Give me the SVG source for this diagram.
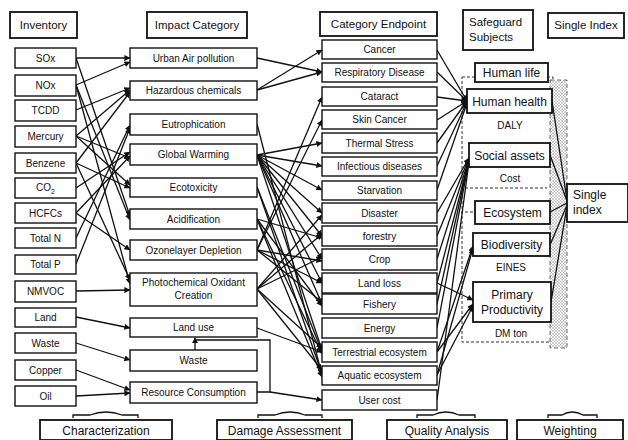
<svg xmlns="http://www.w3.org/2000/svg" width="628" height="440" viewBox="0 0 628 440">
<style>
.b{fill:#fff;stroke:#111;stroke-width:1.4}
.h{fill:#fff;stroke:#111;stroke-width:1.8}
.t{font-family:"Liberation Sans",Arial,sans-serif;font-size:10px;fill:#111;text-anchor:middle}
.th{font-family:"Liberation Sans",Arial,sans-serif;font-size:11.5px;fill:#111;text-anchor:middle}
.ts{font-family:"Liberation Sans",Arial,sans-serif;font-size:12px;fill:#111;text-anchor:middle}
.c{stroke:#111;stroke-width:1.3;fill:none}
.ca{stroke:#111;stroke-width:1.3;fill:none;marker-end:url(#ah)}
.d{stroke:#333;stroke-width:1;fill:none;stroke-dasharray:3 2}
</style>
<defs>
<marker id="ah" viewBox="0 0 8 8" refX="7.5" refY="4" markerWidth="6" markerHeight="6" orient="auto" markerUnits="userSpaceOnUse">
<path d="M0,0 L8,4 L0,8 z" fill="#111"/>
</marker>
<pattern id="dots" width="3" height="3" patternUnits="userSpaceOnUse">
<rect width="3" height="3" fill="#fff"/>
<circle cx="1" cy="1" r="0.7" fill="#777"/>
<circle cx="2.5" cy="2.5" r="0.5" fill="#999"/>
</pattern>
</defs>
<rect width="628" height="440" fill="#fff"/>

<!-- dashed safeguard region and stipple -->
<g id="safeguard-frame">
<rect x="462" y="77" width="91" height="265" class="d"/>
<line x1="465" y1="188" x2="547" y2="188" class="d"/>
<line x1="465" y1="212" x2="475" y2="212" class="d"/>
<rect x="550" y="80" width="17" height="268" fill="url(#dots)" stroke="#444" stroke-width="0.8" stroke-dasharray="4 3"/>
</g>

<g id="connectors">
<!-- inventory to impact -->
<line x1="76" y1="58" x2="130" y2="58" class="ca"/>
<line x1="76" y1="58" x2="130" y2="216" class="ca"/>
<line x1="76" y1="85" x2="130" y2="62" class="ca"/>
<line x1="76" y1="85" x2="130" y2="220" class="ca"/>
<line x1="76" y1="85" x2="130" y2="284" class="ca"/>
<line x1="76" y1="110" x2="130" y2="88" class="ca"/>
<line x1="76" y1="136" x2="130" y2="90" class="ca"/>
<line x1="76" y1="136" x2="130" y2="185" class="ca"/>
<line x1="76" y1="163" x2="130" y2="92" class="ca"/>
<line x1="76" y1="163" x2="130" y2="188" class="ca"/>
<line x1="76" y1="163" x2="130" y2="280" class="ca"/>
<line x1="76" y1="188" x2="130" y2="152" class="ca"/>
<line x1="76" y1="213" x2="130" y2="156" class="ca"/>
<line x1="76" y1="213" x2="130" y2="250" class="ca"/>
<line x1="76" y1="238" x2="130" y2="125" class="ca"/>
<line x1="76" y1="264" x2="130" y2="128" class="ca"/>
<line x1="76" y1="136" x2="130" y2="158" class="ca"/>
<line x1="76" y1="291" x2="130" y2="290" class="ca"/>
<line x1="76" y1="317" x2="130" y2="328" class="ca"/>
<line x1="76" y1="343" x2="130" y2="360" class="ca"/>
<line x1="76" y1="370" x2="130" y2="390" class="ca"/>
<line x1="76" y1="396" x2="130" y2="393" class="ca"/>
<!-- waste / resource loop to land use -->
<polyline points="257,392 270,392 270,340 195,340" class="c"/>
<line x1="195" y1="350" x2="195" y2="337.5" class="ca"/>
<!-- impact to endpoint -->
<line x1="257" y1="58" x2="322" y2="72" class="ca"/>
<line x1="257" y1="90" x2="322" y2="50" class="ca"/>
<line x1="257" y1="90" x2="322" y2="72" class="ca"/>
<line x1="257" y1="124" x2="322" y2="375" class="ca"/>
<line x1="257" y1="155" x2="322" y2="143" class="ca"/>
<line x1="257" y1="155" x2="322" y2="166" class="ca"/>
<line x1="257" y1="155" x2="322" y2="190" class="ca"/>
<line x1="257" y1="155" x2="322" y2="213" class="ca"/>
<line x1="257" y1="155" x2="322" y2="236" class="ca"/>
<line x1="257" y1="155" x2="322" y2="259" class="ca"/>
<line x1="257" y1="155" x2="322" y2="283" class="ca"/>
<line x1="257" y1="155" x2="322" y2="304" class="ca"/>
<line x1="257" y1="155" x2="322" y2="350" class="ca"/>
<line x1="257" y1="187" x2="322" y2="352" class="ca"/>
<line x1="257" y1="187" x2="322" y2="374" class="ca"/>
<line x1="257" y1="219" x2="322" y2="238" class="ca"/>
<line x1="257" y1="219" x2="322" y2="354" class="ca"/>
<line x1="257" y1="219" x2="322" y2="377" class="ca"/>
<line x1="257" y1="219" x2="322" y2="306" class="ca"/>
<line x1="257" y1="250" x2="322" y2="97" class="ca"/>
<line x1="257" y1="250" x2="322" y2="120" class="ca"/>
<line x1="257" y1="250" x2="322" y2="261" class="ca"/>
<line x1="257" y1="250" x2="322" y2="302" class="ca"/>
<line x1="257" y1="250" x2="322" y2="283" class="ca"/>
<line x1="257" y1="289" x2="322" y2="234" class="ca"/>
<line x1="257" y1="289" x2="322" y2="257" class="ca"/>
<line x1="257" y1="289" x2="322" y2="348" class="ca"/>
<line x1="257" y1="289" x2="322" y2="370" class="ca"/>
<line x1="257" y1="289" x2="322" y2="215" class="ca"/>
<line x1="257" y1="328" x2="322" y2="352" class="ca"/>
<line x1="270" y1="392" x2="322" y2="400" class="ca"/>
<!-- endpoint to safeguard -->
<line x1="437" y1="50" x2="467" y2="101" class="ca"/>
<line x1="437" y1="72" x2="467" y2="101" class="ca"/>
<line x1="437" y1="97" x2="467" y2="101" class="ca"/>
<line x1="437" y1="120" x2="467" y2="101" class="ca"/>
<line x1="437" y1="143" x2="467" y2="101" class="ca"/>
<line x1="437" y1="166" x2="467" y2="102" class="ca"/>
<line x1="437" y1="190" x2="467" y2="103" class="ca"/>
<line x1="437" y1="213" x2="469" y2="158" class="ca"/>
<line x1="437" y1="236" x2="469" y2="158" class="ca"/>
<line x1="437" y1="259" x2="469" y2="159" class="ca"/>
<line x1="437" y1="283" x2="469" y2="160" class="ca"/>
<line x1="437" y1="283" x2="473" y2="300" class="ca"/>
<line x1="437" y1="304" x2="469" y2="160" class="ca"/>
<line x1="437" y1="328" x2="469" y2="161" class="ca"/>
<line x1="437" y1="352" x2="473" y2="246" class="ca"/>
<line x1="437" y1="352" x2="473" y2="304" class="ca"/>
<line x1="437" y1="375" x2="473" y2="248" class="ca"/>
<line x1="437" y1="375" x2="473" y2="306" class="ca"/>
<line x1="437" y1="400" x2="469" y2="162" class="ca"/>
<!-- safeguard to single index -->
<line x1="552" y1="101" x2="567" y2="200" class="c"/>
<line x1="550" y1="155" x2="567" y2="201" class="c"/>
<line x1="550" y1="212" x2="567" y2="203" class="c"/>
<line x1="550" y1="245" x2="567" y2="205" class="c"/>
<line x1="551" y1="302" x2="567" y2="206" class="c"/>
</g>

<!-- headers -->
<g id="h-inventory"><rect x="10" y="12" width="67" height="26" class="h"/><text x="43.5" y="29" class="th">Inventory</text></g>
<g id="h-impact"><rect x="147" y="12" width="100" height="26" class="h"/><text x="197" y="29" class="th">Impact Category</text></g>
<g id="h-endpoint"><rect x="320" y="12" width="117" height="24" class="h"/><text x="378.5" y="28" class="th">Category Endpoint</text></g>
<g id="h-safeguard"><rect x="463" y="10" width="70" height="40" class="h"/><text x="469" y="26" class="th" style="text-anchor:start">Safeguard</text><text x="469" y="41" class="th" style="text-anchor:start">Subjects</text></g>
<g id="h-single"><rect x="548" y="13" width="76" height="25" class="h"/><text x="586" y="29" class="th">Single Index</text></g>

<!-- inventory -->
<g id="i-sox"><rect x="15" y="48" width="61" height="20" class="b"/><text x="45.5" y="61.5" class="t">SOx</text></g>
<g id="i-nox"><rect x="15" y="75" width="61" height="21" class="b"/><text x="45.5" y="89" class="t">NOx</text></g>
<g id="i-tcdd"><rect x="15" y="100" width="61" height="21" class="b"/><text x="45.5" y="114" class="t">TCDD</text></g>
<g id="i-mercury"><rect x="15" y="126" width="61" height="21" class="b"/><text x="45.5" y="140" class="t">Mercury</text></g>
<g id="i-benzene"><rect x="15" y="153" width="61" height="20" class="b"/><text x="45.5" y="166.5" class="t">Benzene</text></g>
<g id="i-co2"><rect x="15" y="178" width="61" height="20" class="b"/><text x="45.5" y="191" class="t">CO<tspan font-size="7" dy="3">2</tspan></text></g>
<g id="i-hcfcs"><rect x="15" y="203" width="61" height="20" class="b"/><text x="45.5" y="216.5" class="t">HCFCs</text></g>
<g id="i-totaln"><rect x="15" y="228" width="61" height="20" class="b"/><text x="45.5" y="241.5" class="t">Total N</text></g>
<g id="i-totalp"><rect x="15" y="255" width="61" height="19" class="b"/><text x="45.5" y="268" class="t">Total P</text></g>
<g id="i-nmvoc"><rect x="15" y="281" width="61" height="21" class="b"/><text x="45.5" y="295" class="t">NMVOC</text></g>
<g id="i-land"><rect x="15" y="308" width="61" height="19" class="b"/><text x="45.5" y="321" class="t">Land</text></g>
<g id="i-waste"><rect x="15" y="333" width="61" height="20" class="b"/><text x="45.5" y="346.5" class="t">Waste</text></g>
<g id="i-copper"><rect x="15" y="360" width="61" height="20" class="b"/><text x="45.5" y="373.5" class="t">Copper</text></g>
<g id="i-oil"><rect x="15" y="386" width="61" height="20" class="b"/><text x="45.5" y="399.5" class="t">Oil</text></g>

<!-- impact categories -->
<g id="c-urban"><rect x="130" y="48" width="127" height="20" class="b"/><text x="193.5" y="61.5" class="t">Urban Air pollution</text></g>
<g id="c-hazard"><rect x="130" y="81" width="127" height="19" class="b"/><text x="193.5" y="94" class="t">Hazardous chemicals</text></g>
<g id="c-eutro"><rect x="130" y="114" width="127" height="21" class="b"/><text x="193.5" y="128" class="t">Eutrophication</text></g>
<g id="c-gw"><rect x="130" y="144" width="127" height="21" class="b"/><text x="193.5" y="158" class="t">Global Warming</text></g>
<g id="c-ecotox"><rect x="130" y="178" width="127" height="19" class="b"/><text x="193.5" y="191" class="t">Ecotoxicity</text></g>
<g id="c-acid"><rect x="130" y="209" width="127" height="20" class="b"/><text x="193.5" y="222.5" class="t">Acidification</text></g>
<g id="c-ozone"><rect x="130" y="240" width="127" height="20" class="b"/><text x="193.5" y="253.5" class="t">Ozonelayer Depletion</text></g>
<g id="c-photo"><rect x="130" y="273" width="127" height="33" class="b"/><text x="193.5" y="286" class="t">Photochemical Oxidant</text><text x="193.5" y="299" class="t">Creation</text></g>
<g id="c-landuse"><rect x="130" y="318" width="127" height="19" class="b"/><text x="193.5" y="331" class="t">Land use</text></g>
<g id="c-waste"><rect x="130" y="350" width="127" height="21" class="b"/><text x="193.5" y="364" class="t">Waste</text></g>
<g id="c-resource"><rect x="130" y="382" width="127" height="21" class="b"/><text x="193.5" y="396" class="t">Resource Consumption</text></g>

<!-- endpoints -->
<g id="e-cancer"><rect x="322" y="40" width="115" height="19" class="b"/><text x="379.5" y="53" class="t">Cancer</text></g>
<g id="e-resp"><rect x="322" y="63" width="115" height="19" class="b"/><text x="379.5" y="76" class="t">Respiratory Disease</text></g>
<g id="e-cataract"><rect x="322" y="87" width="115" height="19" class="b"/><text x="379.5" y="100" class="t">Cataract</text></g>
<g id="e-skin"><rect x="322" y="110" width="115" height="19" class="b"/><text x="379.5" y="123" class="t">Skin Cancer</text></g>
<g id="e-thermal"><rect x="322" y="133" width="115" height="20" class="b"/><text x="379.5" y="146.5" class="t">Thermal Stress</text></g>
<g id="e-infect"><rect x="322" y="157" width="115" height="19" class="b"/><text x="379.5" y="170" class="t">Infectious diseases</text></g>
<g id="e-starv"><rect x="322" y="181" width="115" height="19" class="b"/><text x="379.5" y="194" class="t">Starvation</text></g>
<g id="e-disaster"><rect x="322" y="203" width="115" height="20" class="b"/><text x="379.5" y="216.5" class="t">Disaster</text></g>
<g id="e-forestry"><rect x="322" y="226" width="115" height="20" class="b"/><text x="379.5" y="239.5" class="t">forestry</text></g>
<g id="e-crop"><rect x="322" y="249" width="115" height="21" class="b"/><text x="379.5" y="263" class="t">Crop</text></g>
<g id="e-landloss"><rect x="322" y="273" width="115" height="20" class="b"/><text x="379.5" y="286.5" class="t">Land loss</text></g>
<g id="e-fishery"><rect x="322" y="294" width="115" height="20" class="b"/><text x="379.5" y="307.5" class="t">Fishery</text></g>
<g id="e-energy"><rect x="322" y="318" width="115" height="20" class="b"/><text x="379.5" y="331.5" class="t">Energy</text></g>
<g id="e-terr"><rect x="322" y="342" width="115" height="20" class="b"/><text x="379.5" y="355.5" class="t">Terrestrial ecosystem</text></g>
<g id="e-aqua"><rect x="322" y="366" width="115" height="19" class="b"/><text x="379.5" y="379" class="t">Aquatic ecosystem</text></g>
<g id="e-usercost"><rect x="322" y="390" width="115" height="20" class="b"/><text x="379.5" y="403.5" class="t">User cost</text></g>

<!-- safeguard subjects -->
<g id="s-life"><rect x="475" y="63" width="73" height="19" class="h"/><text x="511.5" y="77" class="ts">Human life</text></g>
<g id="s-health"><rect x="467" y="89" width="85" height="24" class="h"/><text x="509.5" y="105.5" class="ts">Human health</text><text x="510" y="129" class="t">DALY</text></g>
<g id="s-social"><rect x="469" y="143" width="81" height="24" class="h"/><text x="509.5" y="159.5" class="ts">Social assets</text><text x="510" y="182" class="t">Cost</text></g>
<g id="s-eco"><rect x="475" y="201" width="75" height="23" class="h"/><text x="512.5" y="217" class="ts">Ecosystem</text></g>
<g id="s-bio"><rect x="473" y="233" width="77" height="23" class="h"/><text x="511.5" y="249" class="ts">Biodiversity</text><text x="511" y="271" class="t">EINES</text></g>
<g id="s-primary"><rect x="473" y="282" width="78" height="40" class="h"/><text x="512" y="299" class="ts">Primary</text><text x="512" y="314" class="ts">Productivity</text><text x="511" y="337" class="t">DM ton</text></g>
<g id="s-index"><rect x="567" y="184" width="61" height="38" class="h"/><text x="573" y="199" class="ts" style="text-anchor:start">Single</text><text x="573" y="214" class="ts" style="text-anchor:start">index</text></g>

<!-- bottom stages -->
<g id="st-char"><path d="M73,418 L73,415 L90,415 Q106,409 122,415 L138,415 L138,418" class="c"/><rect x="40" y="420" width="132" height="20" class="h"/><text x="106" y="435" class="ts">Characterization</text></g>
<g id="st-damage"><path d="M258,418 L258,415 L275,415 Q290,409 305,415 L322,415 L322,418" class="c"/><rect x="217" y="420" width="135" height="20" class="h"/><text x="284.5" y="435" class="ts">Damage Assessment</text></g>
<g id="st-quality"><path d="M417,418 L417,415 L433,415 Q446,409 459,415 L475,415 L475,418" class="c"/><rect x="387" y="420" width="120" height="20" class="h"/><text x="447" y="435" class="ts">Quality Analysis</text></g>
<g id="st-weight"><path d="M548,418 L548,415 L562,415 Q572,409 583,415 L597,415 L597,418" class="c"/><rect x="517" y="420" width="106" height="20" class="h"/><text x="570" y="435" class="ts">Weighting</text></g>
</svg>
